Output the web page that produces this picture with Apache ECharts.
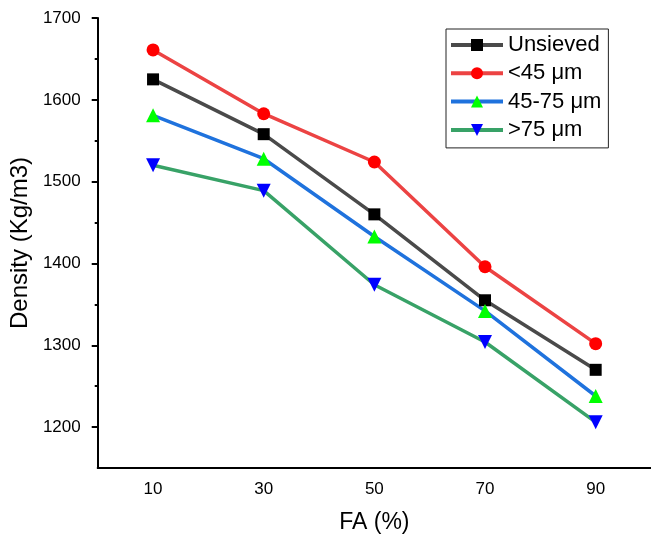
<!DOCTYPE html>
<html>
<head>
<meta charset="utf-8">
<script src="https://cdn.jsdelivr.net/npm/echarts@6/dist/echarts.min.js"></script>
<style>
  html, body { margin: 0; padding: 0; background: #fff; }
  #main { width: 651px; height: 541px; }
</style>
</head>
<body>
<div id="main"></div>
<script>
// FA content (%) categories
var faLevels = ['10', '30', '50', '70', '90'];

// density values (Kg/m3)
var unsieved = [1625, 1558, 1460, 1355, 1270];
var under45 = [1661, 1583, 1524, 1396, 1302];
var mid4575 = [1581, 1528, 1433, 1342, 1238];
var over75 = [1520, 1489, 1374, 1304, 1206];

var majorTicks = [1200, 1300, 1400, 1500, 1600, 1700];
var minorTicks = [1250, 1350, 1450, 1550, 1650];

var font = 'Liberation Sans, Arial, sans-serif';

var chart = echarts.init(document.getElementById('main'));

function makeSeries(name, data, lineColor, markColor, symbol, size, rotate) {
    return {
        name: name,
        type: 'line',
        data: data,
        symbol: symbol,
        symbolSize: size,
        symbolRotate: rotate || 0,
        lineStyle: { color: lineColor, width: 3.5 },
        itemStyle: { color: markColor, borderWidth: 0 },
        emphasis: { disabled: true },
        animation: false
    };
}

var option = {
    backgroundColor: '#fff',
    animation: false,
    grid: { left: 96, right: -2, top: 18, bottom: 73, containLabel: false },
    legend: {
        orient: 'vertical',
        left: 446,
        top: 29,
        padding: [5, 7, 7, 3],
        borderColor: '#222',
        borderWidth: 1,
        itemWidth: 52,
        itemHeight: 15,
        itemGap: 6.3,
        lineStyle: { width: 4 },
        textStyle: { fontFamily: font, fontSize: 22, color: '#000', lineHeight: 22 },
        data: ['Unsieved', '<45 μm', '45-75 μm', '>75 μm']
    },
    xAxis: {
        type: 'category',
        data: faLevels,
        boundaryGap: true,
        name: 'FA (%)',
        nameLocation: 'middle',
        nameGap: 43,
        nameTextStyle: { fontFamily: font, fontSize: 23, color: '#000' },
        axisLine: { lineStyle: { color: '#000', width: 2 } },
        axisTick: { alignWithLabel: true, length: 6, lineStyle: { color: '#000', width: 2 } },
        axisLabel: { fontFamily: font, fontSize: 17, color: '#000', margin: 13 },
        splitLine: { show: false }
    },
    yAxis: [
        {
            type: 'value',
            min: 1150,
            max: 1700,
            interval: 50,
            name: 'Density (Kg/m3)',
            nameLocation: 'middle',
            nameGap: 60,
            nameTextStyle: { fontFamily: font, fontSize: 24, color: '#000' },
            axisLine: { show: true, lineStyle: { color: '#000', width: 2 } },
            axisTick: { show: true, length: 6, customValues: majorTicks, lineStyle: { color: '#000', width: 2 } },
            axisLabel: {
                fontFamily: font, fontSize: 17, color: '#000', margin: 17,
                customValues: majorTicks,
                formatter: function (v) { return String(v); }
            },
            splitLine: { show: false }
        },
        {
            // minor ticks only
            type: 'value',
            position: 'left',
            min: 1150,
            max: 1700,
            interval: 50,
            axisLine: { show: false },
            axisTick: { show: true, length: 3, customValues: minorTicks, lineStyle: { color: '#000', width: 2 } },
            axisLabel: { show: false },
            splitLine: { show: false }
        }
    ],
    series: [
        makeSeries('Unsieved', unsieved, '#4a4a4a', '#000000', 'rect', 12),
        makeSeries('<45 μm', under45, '#ec4343', '#ff0000', 'circle', 13),
        makeSeries('45-75 μm', mid4575, '#1f72dd', '#00ff00', 'triangle', 14),
        makeSeries('>75 μm', over75, '#38a267', '#0000ff', 'triangle', 14, 180)
    ]
};

chart.setOption(option);
</script>
</body>
</html>
